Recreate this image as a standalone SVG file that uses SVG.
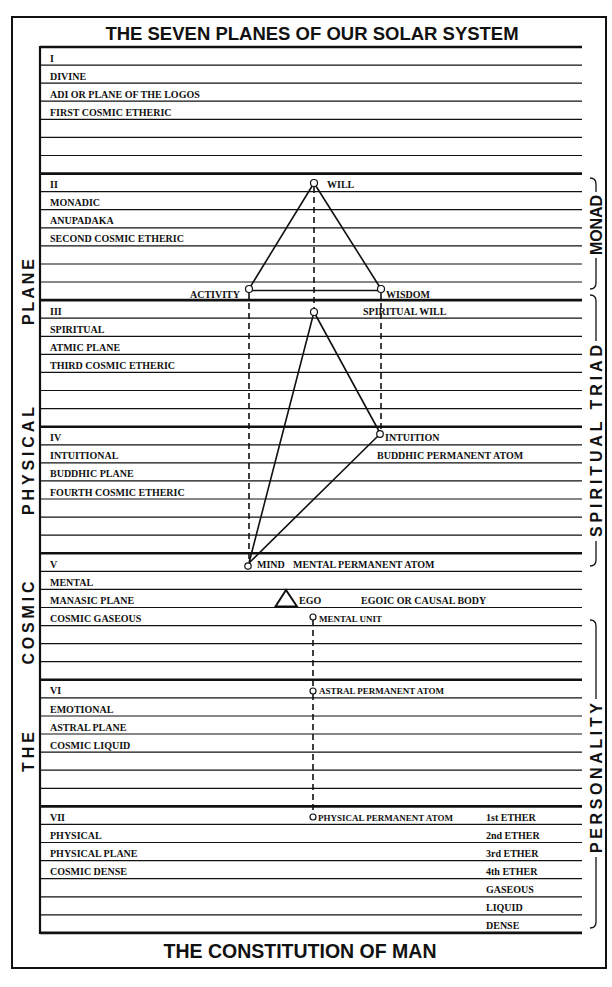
<svg xmlns="http://www.w3.org/2000/svg" width="612" height="987" viewBox="0 0 612 987">
<style>
.bg{fill:#fff}
.frame{fill:none;stroke:#111;stroke-width:2}
.row{stroke:#111;stroke-width:1.2}
.heavy{stroke:#111;stroke-width:2.6}
.lbl{font-family:"Liberation Serif",serif;font-weight:bold;font-size:10px;fill:#111}
.sm{font-size:9px}
.title{font-family:"Liberation Sans",Arial,sans-serif;font-weight:bold;fill:#111;text-anchor:middle}
.side{font-family:"Liberation Sans",Arial,sans-serif;font-weight:bold;font-size:16px;fill:#111;text-anchor:middle}
.solid{fill:none;stroke:#111;stroke-width:1.6}
.dash{fill:none;stroke:#111;stroke-width:1.6;stroke-dasharray:6 4}
.pt{fill:#fff;stroke:#111;stroke-width:1.2}
.brk{fill:none;stroke:#111;stroke-width:1.3}
</style>
<rect class="bg" x="0" y="0" width="612" height="987"/>
<rect class="frame" x="12" y="17" width="594" height="951"/>
<text class="title" x="312" y="40" font-size="18.5">THE SEVEN PLANES OF OUR SOLAR SYSTEM</text>
<text class="title" x="300" y="958" font-size="19.5">THE CONSTITUTION OF MAN</text>

<g id="grid">
<line class="heavy" x1="40" y1="47" x2="582" y2="47"/>
<line class="row" x1="40" y1="65.1" x2="582" y2="65.1"/>
<line class="row" x1="40" y1="83.2" x2="582" y2="83.2"/>
<line class="row" x1="40" y1="101.2" x2="582" y2="101.2"/>
<line class="row" x1="40" y1="119.3" x2="582" y2="119.3"/>
<line class="row" x1="40" y1="137.4" x2="582" y2="137.4"/>
<line class="row" x1="40" y1="155.5" x2="582" y2="155.5"/>
<line class="heavy" x1="40" y1="173.6" x2="582" y2="173.6"/>
<line class="row" x1="40" y1="191.6" x2="582" y2="191.6"/>
<line class="row" x1="40" y1="209.7" x2="582" y2="209.7"/>
<line class="row" x1="40" y1="227.8" x2="582" y2="227.8"/>
<line class="row" x1="40" y1="245.9" x2="582" y2="245.9"/>
<line class="row" x1="40" y1="264" x2="582" y2="264"/>
<line class="row" x1="40" y1="282" x2="582" y2="282"/>
<line class="heavy" x1="40" y1="300.1" x2="582" y2="300.1"/>
<line class="row" x1="40" y1="318.2" x2="582" y2="318.2"/>
<line class="row" x1="40" y1="336.3" x2="582" y2="336.3"/>
<line class="row" x1="40" y1="354.4" x2="582" y2="354.4"/>
<line class="row" x1="40" y1="372.4" x2="582" y2="372.4"/>
<line class="row" x1="40" y1="390.5" x2="582" y2="390.5"/>
<line class="row" x1="40" y1="408.6" x2="582" y2="408.6"/>
<line class="heavy" x1="40" y1="426.7" x2="582" y2="426.7"/>
<line class="row" x1="40" y1="444.8" x2="582" y2="444.8"/>
<line class="row" x1="40" y1="462.8" x2="582" y2="462.8"/>
<line class="row" x1="40" y1="480.9" x2="582" y2="480.9"/>
<line class="row" x1="40" y1="499" x2="582" y2="499"/>
<line class="row" x1="40" y1="517.1" x2="582" y2="517.1"/>
<line class="row" x1="40" y1="535.2" x2="582" y2="535.2"/>
<line class="heavy" x1="40" y1="553.2" x2="582" y2="553.2"/>
<line class="row" x1="40" y1="571.3" x2="582" y2="571.3"/>
<line class="row" x1="40" y1="589.4" x2="582" y2="589.4"/>
<line class="row" x1="40" y1="607.5" x2="582" y2="607.5"/>
<line class="row" x1="40" y1="625.6" x2="582" y2="625.6"/>
<line class="row" x1="40" y1="643.6" x2="582" y2="643.6"/>
<line class="row" x1="40" y1="661.7" x2="582" y2="661.7"/>
<line class="heavy" x1="40" y1="679.8" x2="582" y2="679.8"/>
<line class="row" x1="40" y1="697.9" x2="582" y2="697.9"/>
<line class="row" x1="40" y1="716" x2="582" y2="716"/>
<line class="row" x1="40" y1="734" x2="582" y2="734"/>
<line class="row" x1="40" y1="752.1" x2="582" y2="752.1"/>
<line class="row" x1="40" y1="770.2" x2="582" y2="770.2"/>
<line class="row" x1="40" y1="788.3" x2="582" y2="788.3"/>
<line class="heavy" x1="40" y1="806.4" x2="582" y2="806.4"/>
<line class="row" x1="40" y1="824.4" x2="582" y2="824.4"/>
<line class="row" x1="40" y1="842.5" x2="582" y2="842.5"/>
<line class="row" x1="40" y1="860.6" x2="582" y2="860.6"/>
<line class="row" x1="40" y1="878.7" x2="582" y2="878.7"/>
<line class="row" x1="40" y1="896.8" x2="582" y2="896.8"/>
<line class="row" x1="40" y1="914.8" x2="582" y2="914.8"/>
<line class="heavy" x1="40" y1="932.9" x2="582" y2="932.9"/>
<line x1="40" y1="46" x2="40" y2="934" stroke="#111" stroke-width="2.2"/>
</g>

<g id="plane-1">
<text class="lbl" x="50" y="61.6">I</text>
<text class="lbl" x="50" y="79.7">DIVINE</text>
<text class="lbl" x="50" y="97.7">ADI OR PLANE OF THE LOGOS</text>
<text class="lbl" x="50" y="115.8">FIRST COSMIC ETHERIC</text>
</g>
<g id="plane-2">
<text class="lbl" x="50" y="188.1">II</text>
<text class="lbl" x="50" y="206.2">MONADIC</text>
<text class="lbl" x="50" y="224.3">ANUPADAKA</text>
<text class="lbl" x="50" y="242.4">SECOND COSMIC ETHERIC</text>
</g>
<g id="plane-3">
<text class="lbl" x="50" y="314.7">III</text>
<text class="lbl" x="50" y="332.8">SPIRITUAL</text>
<text class="lbl" x="50" y="350.9">ATMIC PLANE</text>
<text class="lbl" x="50" y="368.9">THIRD COSMIC ETHERIC</text>
</g>
<g id="plane-4">
<text class="lbl" x="50" y="441.3">IV</text>
<text class="lbl" x="50" y="459.3">INTUITIONAL</text>
<text class="lbl" x="50" y="477.4">BUDDHIC PLANE</text>
<text class="lbl" x="50" y="495.5">FOURTH COSMIC ETHERIC</text>
</g>
<g id="plane-5">
<text class="lbl" x="50" y="567.8">V</text>
<text class="lbl" x="50" y="585.9">MENTAL</text>
<text class="lbl" x="50" y="604">MANASIC PLANE</text>
<text class="lbl" x="50" y="622.1">COSMIC GASEOUS</text>
</g>
<g id="plane-6">
<text class="lbl" x="50" y="694.4">VI</text>
<text class="lbl" x="50" y="712.5">EMOTIONAL</text>
<text class="lbl" x="50" y="730.5">ASTRAL PLANE</text>
<text class="lbl" x="50" y="748.6">COSMIC LIQUID</text>
</g>
<g id="plane-7">
<text class="lbl" x="50" y="820.9">VII</text>
<text class="lbl" x="50" y="839">PHYSICAL</text>
<text class="lbl" x="50" y="857.1">PHYSICAL PLANE</text>
<text class="lbl" x="50" y="875.2">COSMIC DENSE</text>
<text class="lbl" x="486" y="820.9">1st ETHER</text>
<text class="lbl" x="486" y="839">2nd ETHER</text>
<text class="lbl" x="486" y="857.1">3rd ETHER</text>
<text class="lbl" x="486" y="875.2">4th ETHER</text>
<text class="lbl" x="486" y="893.3">GASEOUS</text>
<text class="lbl" x="486" y="911.3">LIQUID</text>
<text class="lbl" x="486" y="929.4">DENSE</text>
</g>

<g id="left-title">
<text class="side" transform="translate(33.5,292) rotate(-90)" textLength="66" lengthAdjust="spacing">PLANE</text>
<text class="side" transform="translate(33.5,461) rotate(-90)" textLength="108" lengthAdjust="spacing">PHYSICAL</text>
<text class="side" transform="translate(33.5,623) rotate(-90)" textLength="83" lengthAdjust="spacing">COSMIC</text>
<text class="side" transform="translate(33.5,752) rotate(-90)" textLength="40" lengthAdjust="spacing">THE</text>
</g>

<g id="monad-bracket">
<path class="brk" d="M590,178 Q596,178 596,184 V192 M596,258 V283 Q596,289 590,289"/>
<text class="side" transform="translate(602,225) rotate(-90)" textLength="60" lengthAdjust="spacing">MONAD</text>
</g>
<g id="triad-bracket">
<path class="brk" d="M590,295 Q596,295 596,301 V341 M596,541 V560 Q596,566 590,566"/>
<text class="side" transform="translate(602,441) rotate(-90)" textLength="192" lengthAdjust="spacing">SPIRITUAL TRIAD</text>
</g>
<g id="personality-bracket">
<path class="brk" d="M590,620 Q596,620 596,626 V699 M596,857 V922 Q596,928 590,928"/>
<text class="side" transform="translate(602,778) rotate(-90)" textLength="150" lengthAdjust="spacing">PERSONALITY</text>
</g>

<g id="connectors">
<path class="solid" d="M314,183 L249,289 M314,183 L381,289 M249,290.5 H381"/>
<path class="solid" d="M314,312 L380,433 M314,312 L249,563 M380,434 L249,563"/>
<path class="dash" d="M314,187 V308"/>
<path class="dash" d="M249,293 V562"/>
<path class="dash" d="M381,293 V430"/>
<path class="dash" d="M313,620 V688 M313,694 V814"/>
</g>

<g id="will"><circle class="pt" cx="314" cy="183" r="3.5"/><text class="lbl" x="327" y="188.1">WILL</text></g>
<g id="activity"><circle class="pt" cx="249" cy="289" r="3.5"/><text class="lbl" x="240" y="297.5" text-anchor="end">ACTIVITY</text></g>
<g id="wisdom"><circle class="pt" cx="381" cy="289" r="3.5"/><text class="lbl" x="386" y="297.5">WISDOM</text></g>
<g id="spiritual-will"><circle class="pt" cx="314" cy="312" r="3.5"/><text class="lbl" x="363" y="314.7">SPIRITUAL WILL</text></g>
<g id="intuition"><circle class="pt" cx="380" cy="434" r="3.3"/><text class="lbl" x="385" y="441.3">INTUITION</text><text class="lbl" x="377" y="459.3">BUDDHIC PERMANENT ATOM</text></g>
<g id="mind"><circle class="pt" cx="248" cy="566" r="3.2"/><text class="lbl" x="257" y="567.8">MIND</text><text class="lbl" x="293" y="567.8">MENTAL PERMANENT ATOM</text></g>
<g id="ego"><path d="M286,590 L297,606.5 H275.5 Z" fill="none" stroke="#111" stroke-width="2"/><text class="lbl" x="299" y="604">EGO</text><text class="lbl" x="361" y="604">EGOIC OR CAUSAL BODY</text></g>
<g id="mental-unit"><circle class="pt" cx="313" cy="617" r="3"/><text class="lbl sm" x="319" y="622">MENTAL UNIT</text></g>
<g id="astral-atom"><circle class="pt" cx="313" cy="691" r="3"/><text class="lbl sm" x="319" y="694.4">ASTRAL PERMANENT ATOM</text></g>
<g id="physical-atom"><circle class="pt" cx="313" cy="817" r="3"/><text class="lbl sm" x="318" y="820.9">PHYSICAL PERMANENT ATOM</text></g>
</svg>
